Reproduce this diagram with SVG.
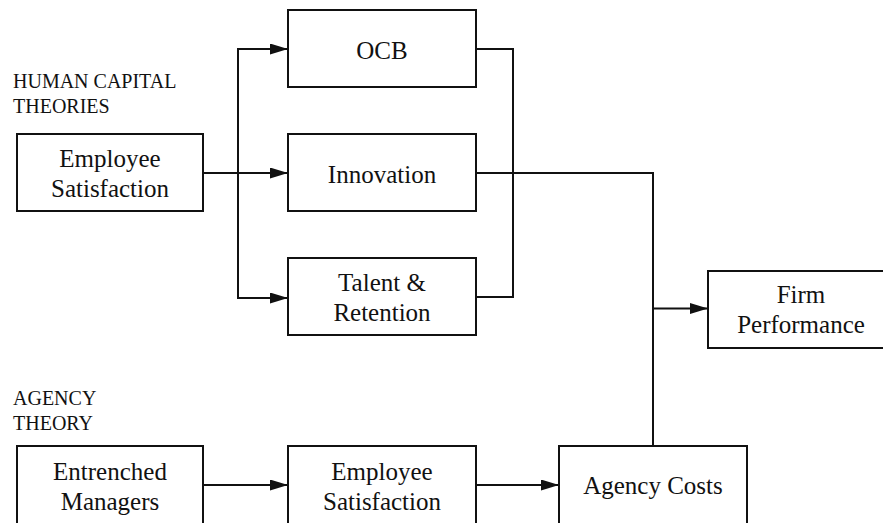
<svg xmlns="http://www.w3.org/2000/svg" width="883" height="523" viewBox="0 0 883 523">
  <style>
    .box { fill: #fff; stroke: #111; stroke-width: 2; }
    .label { font-family: 'Liberation Serif', 'Tinos', 'Times New Roman', 'DejaVu Serif', serif; font-size: 25px; fill: #111; text-anchor: middle; }
    .heading { font-family: 'Liberation Serif', 'Tinos', 'Times New Roman', 'DejaVu Serif', serif; font-size: 20px; fill: #111; }
    .link { fill: none; stroke: #111; stroke-width: 2; }
  </style>
  <defs>
    <marker id="arrow" markerUnits="userSpaceOnUse" markerWidth="18" markerHeight="11" refX="18" refY="5.5" orient="auto">
      <path d="M0,0 L18,5.5 L0,11 Z" fill="#111"/>
    </marker>
  </defs>
  <rect width="883" height="523" fill="#fff"/>

  <!-- section headings -->
  <text class="heading" x="13" y="88">HUMAN CAPITAL</text>
  <text class="heading" x="13" y="113">THEORIES</text>
  <text class="heading" x="13" y="405">AGENCY</text>
  <text class="heading" x="13" y="430">THEORY</text>

  <!-- connectors -->
  <g id="connectors">
    <path class="link" d="M203,173 L288,173" marker-end="url(#arrow)"/>
    <path class="link" d="M270,49 L238,49 L238,298 L270,298"/>
    <path class="link" d="M270,49 L288,49" marker-end="url(#arrow)"/>
    <path class="link" d="M270,298 L288,298" marker-end="url(#arrow)"/>
    <path class="link" d="M476,49 L513,49 L513,297 L476,297"/>
    <path class="link" d="M476,173 L653,173 L653,446"/>
    <path class="link" d="M653,308.5 L708,308.5" marker-end="url(#arrow)"/>
    <path class="link" d="M203,485 L288,485" marker-end="url(#arrow)"/>
    <path class="link" d="M476,485 L559,485" marker-end="url(#arrow)"/>
  </g>

  <!-- nodes -->
  <g id="employee-satisfaction-hc">
    <rect class="box" x="17" y="134" width="186" height="77"/>
    <text class="label" x="110" y="167">Employee</text>
    <text class="label" x="110" y="197">Satisfaction</text>
  </g>
  <g id="ocb">
    <rect class="box" x="288" y="10" width="188" height="77"/>
    <text class="label" x="382" y="59">OCB</text>
  </g>
  <g id="innovation">
    <rect class="box" x="288" y="134" width="188" height="77"/>
    <text class="label" x="382" y="182.5">Innovation</text>
  </g>
  <g id="talent-retention">
    <rect class="box" x="288" y="258" width="188" height="77"/>
    <text class="label" x="382" y="291">Talent &amp;</text>
    <text class="label" x="382" y="321">Retention</text>
  </g>
  <g id="firm-performance">
    <rect class="box" x="708" y="271" width="188" height="77"/>
    <text class="label" x="801" y="303">Firm</text>
    <text class="label" x="801" y="333">Performance</text>
  </g>
  <g id="entrenched-managers">
    <rect class="box" x="17" y="446" width="186" height="80"/>
    <text class="label" x="110" y="480">Entrenched</text>
    <text class="label" x="110" y="510">Managers</text>
  </g>
  <g id="employee-satisfaction-agency">
    <rect class="box" x="288" y="446" width="188" height="80"/>
    <text class="label" x="382" y="480">Employee</text>
    <text class="label" x="382" y="510">Satisfaction</text>
  </g>
  <g id="agency-costs">
    <rect class="box" x="559" y="446" width="188" height="80"/>
    <text class="label" x="653" y="494">Agency Costs</text>
  </g>
</svg>
